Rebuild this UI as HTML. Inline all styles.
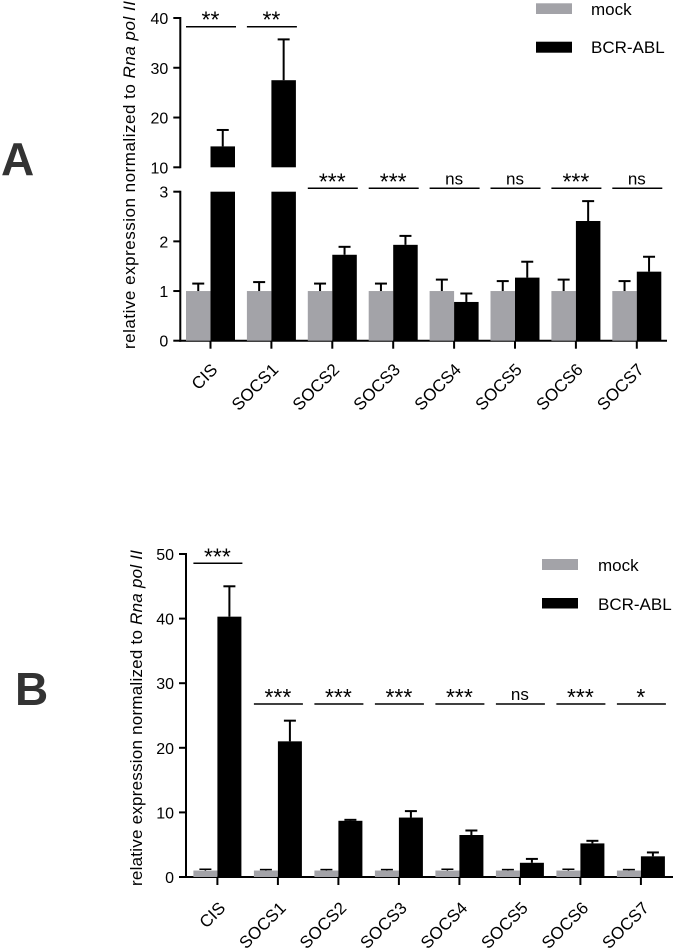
<!DOCTYPE html>
<html><head><meta charset="utf-8">
<style>
html,body{margin:0;padding:0;background:#fff;}
svg{display:block;font-family:"Liberation Sans",Arial,sans-serif;}
</style></head>
<body>
<svg id="fig" width="675" height="950" viewBox="0 0 675 950" xmlns="http://www.w3.org/2000/svg">
<text x="1" y="175" font-size="46" font-weight="bold" fill="#333">A</text>
<text x="15" y="705" font-size="46" font-weight="bold" fill="#333">B</text>
</svg>
<script>
const categories = ["CIS","SOCS1","SOCS2","SOCS3","SOCS4","SOCS5","SOCS6","SOCS7"];
const aMock = [1,1,1,1,1,1,1,1];
const aMockErr = [0.15,0.18,0.15,0.15,0.23,0.2,0.23,0.2];
const aBcr = [14.2,27.5,1.73,1.93,0.78,1.27,2.41,1.39];
const aBcrErr = [3.3,8.2,0.16,0.18,0.17,0.32,0.4,0.3];
const aSig = ["**","**","***","***","ns","ns","***","ns"];
const aLowTicks = [0,1,2,3];
const aHighTicks = [10,20,30,40];
const bMock = [1,1,1,1,1,1,1,1];
const bMockErr = [0.2,0.15,0.15,0.15,0.2,0.15,0.2,0.15];
const bBcr = [40.3,21,8.7,9.2,6.5,2.2,5.2,3.2];
const bBcrErr = [4.7,3.2,0.15,1.0,0.7,0.6,0.4,0.6];
const bSig = ["***","***","***","***","***","ns","***","*"];
const bTicks = [0,10,20,30,40,50];

const NS="http://www.w3.org/2000/svg";
const svg=document.getElementById('fig');
function mk(tag,attrs,parent){const e=document.createElementNS(NS,tag);for(const k in attrs)e.setAttribute(k,attrs[k]);(parent||svg).appendChild(e);return e;}
function line(x1,y1,x2,y2,p,w){return mk('line',{x1,y1,x2,y2,stroke:'#000','stroke-width':w||2},p);}
function sigText(s,cx,sy,g,name){
 const isNs=s=='ns';
 const t=mk('text',{x:cx,y:isNs?sy-4:sy+1,'font-size':isNs?17:23,'text-anchor':'middle'},g);
 t.textContent=s;
 
 
}

// ---------- Panel A ----------
const gA=mk('g',{});


const aX0=180.3, aX1=667, aStep=60.9, aC0=210.5, bw=24.5;
const aBase=340.7;
const aLowY=v=>aBase-v*49.67;          // 0..3
const aHighY=v=>167.3-(v-10)*4.977;     // 10..40
function aY(v){return v<=3?aLowY(v):aHighY(v);}
line(aX0,aLowY(3)-1,aX0,aBase+1,gA);
line(aX0,aHighY(40)-1,aX0,aHighY(10)+1,gA);
line(aX0-1,aBase,aX1,aBase,gA);
aLowTicks.concat(aHighTicks).forEach(t=>{const y=aY(t);line(aX0-7,y,aX0,y,gA);
 const tx=mk('text',{x:aX0-12,y:y+6,'font-size':16,'text-anchor':'end'},gA);tx.textContent=t;
 
 });
categories.forEach((c,i)=>{
 const cx=aC0+i*aStep;
 line(cx,aBase,cx,aBase+8,gA);
 const mv=aMock[i], mt=aY(mv);
 const r1=mk('rect',{x:cx-bw,y:mt,width:bw,height:aBase-mt,fill:'#a3a3a8'},gA);
 
 
 const me=aY(mv+aMockErr[i]);line(cx-bw/2,mt,cx-bw/2,me,gA);line(cx-bw/2-6,me,cx-bw/2+6,me,gA);
 const bv=aBcr[i];
 let r2;
 if(bv<=3){const bt=aLowY(bv);r2=mk('rect',{x:cx,y:bt,width:bw,height:aBase-bt,fill:'#000'},gA);}
 else{r2=mk('rect',{x:cx,y:aLowY(3),width:bw,height:aBase-aLowY(3),fill:'#000'},gA);
  const bt=aHighY(bv);const r3=mk('rect',{x:cx,y:bt,width:bw,height:aHighY(10)-bt,fill:'#000'},gA);
  
  }
 
 
 const btop=aY(bv), be=aY(bv+aBcrErr[i]);
 line(cx+bw/2,btop,cx+bw/2,be,gA);line(cx+bw/2-6,be,cx+bw/2+6,be,gA);
 const sy=bv>3?26.7:188.3;
 line(cx-bw,sy,cx+bw+1,sy,gA,1.5);
 sigText(aSig[i],cx,sy,gA,'sig-a-'+c);
 const lx=cx+8, ly=aBase+30;
 const lt=mk('text',{x:lx,y:ly,'font-size':17,'text-anchor':'end',transform:`rotate(-45 ${lx} ${ly})`},gA);
 lt.textContent=c;
 
 
});
const yla=mk('text',{x:0,y:0,'font-size':17,'text-anchor':'middle',textLength:348,transform:'translate(135,175) rotate(-90)'},gA);
yla.innerHTML='relative expression normalized to <tspan font-style="italic">Rna pol II</tspan>';


const la1=mk('rect',{x:536,y:3.3,width:36,height:10.7,fill:'#a3a3a8'},gA);


const la2=mk('rect',{x:536,y:41.7,width:36,height:11,fill:'#000'},gA);


const lta1=mk('text',{x:591,y:15,'font-size':17},gA);lta1.textContent='mock';


const lta2=mk('text',{x:591,y:53,'font-size':17},gA);lta2.textContent='BCR-ABL';



// ---------- Panel B ----------
const gB=mk('g',{});


const bX0=186, bX1=673, bC0=217.4, bStep=60.5, bbw=24;
const bBase=877;
const bY=v=>bBase-v*6.46;
line(bX0,bY(50)-1,bX0,bBase+1,gB);
line(bX0-1,bBase,bX1,bBase,gB);
bTicks.forEach(t=>{const y=bY(t);line(bX0-7,y,bX0,y,gB);
 const tx=mk('text',{x:bX0-12,y:y+6,'font-size':16,'text-anchor':'end'},gB);tx.textContent=t;
 
 });
categories.forEach((c,i)=>{
 const cx=bC0+i*bStep;
 line(cx,bBase,cx,bBase+8,gB);
 const mt=bY(bMock[i]);
 const r1=mk('rect',{x:cx-bbw,y:mt,width:bbw,height:bBase-mt,fill:'#a3a3a8'},gB);
 
 
 const me=bY(bMock[i]+bMockErr[i]);line(cx-bbw/2,mt,cx-bbw/2,me,gB,1.5);line(cx-bbw/2-6,me,cx-bbw/2+6,me,gB,1.5);
 const bt=bY(bBcr[i]);
 const r2=mk('rect',{x:cx,y:bt,width:bbw,height:bBase-bt,fill:'#000'},gB);
 
 
 const be=bY(bBcr[i]+bBcrErr[i]);line(cx+bbw/2,bt,cx+bbw/2,be,gB);line(cx+bbw/2-6,be,cx+bbw/2+6,be,gB);
 const sy=i==0?563.3:704;
 line(cx-bbw,sy,cx+bbw+1,sy,gB,1.5);
 sigText(bSig[i],cx,sy,gB,'sig-b-'+c);
 const lx=cx+9, ly=bBase+32;
 const lt=mk('text',{x:lx,y:ly,'font-size':17,'text-anchor':'end',transform:`rotate(-45 ${lx} ${ly})`},gB);
 lt.textContent=c;
 
 
});
const ylb=mk('text',{x:0,y:0,'font-size':17,'text-anchor':'middle',textLength:336,transform:'translate(142,718) rotate(-90)'},gB);
ylb.innerHTML='relative expression normalized to <tspan font-style="italic">Rna pol II</tspan>';


const lb1=mk('rect',{x:542,y:559,width:36,height:11,fill:'#a3a3a8'},gB);


const lb2=mk('rect',{x:542,y:598,width:36,height:10.5,fill:'#000'},gB);


const ltb1=mk('text',{x:598,y:571,'font-size':17},gB);ltb1.textContent='mock';


const ltb2=mk('text',{x:598,y:610,'font-size':17},gB);ltb2.textContent='BCR-ABL';


</script>
</body></html>
